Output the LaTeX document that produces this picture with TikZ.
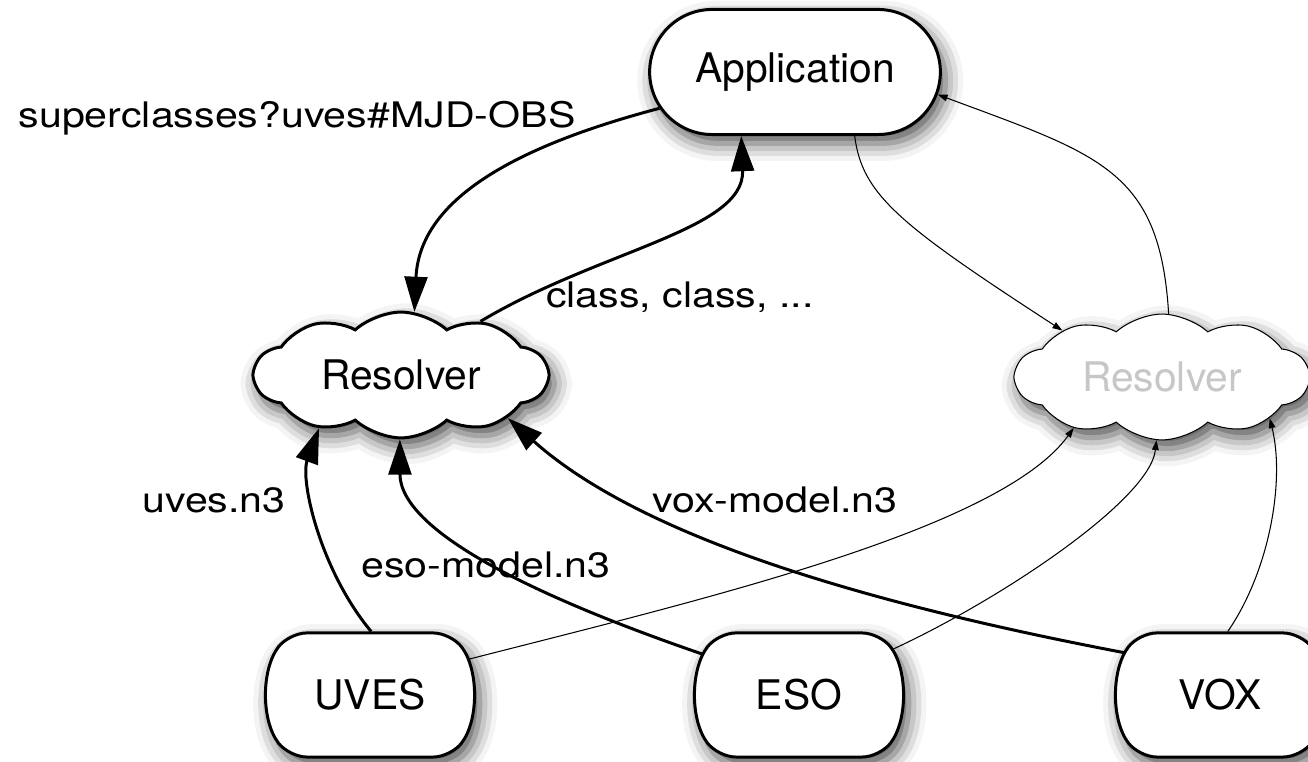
\documentclass[tikz,border=0pt]{standalone}
\usepackage{fontspec}
\setmainfont{TeX Gyre Heros}
\newfontfamily\lblfont{TeX Gyre Heros}[FakeStretch=1.17]
\usetikzlibrary{shapes.misc, shapes.symbols, arrows.meta, shadows.blur}

\begin{document}
\begin{tikzpicture}[
    x=0.01cm, y=-0.01cm,
    font=\fontsize{11.6}{14}\selectfont,
    shade/.style={blur shadow={shadow xshift=1.5pt, shadow yshift=-2.5pt, shadow blur radius=5pt, shadow opacity=70}},
    pill/.style={rounded rectangle, draw=black, line width=0.85pt, fill=white, shade, minimum width=3.14cm, minimum height=1.25cm},
    source/.style={rounded rectangle, rounded rectangle arc length=75, rounded corners=5pt, draw=black, line width=0.85pt, fill=white, shade, minimum height=1.24cm},
    resolver/.style={cloud, cloud puffs=10, cloud puff arc=85, aspect=2.6, draw=black, line width=0.85pt, fill=white, shade, minimum width=2.93cm, minimum height=1.12cm},
    ghost/.style={resolver, line width=0.3pt, text=black!22},
    strong/.style={draw=black, line width=0.85pt, -{Triangle[length=10pt, width=6.5pt]}},
    weak/.style={draw=black, line width=0.3pt, -{Triangle[length=2.8pt, width=1.9pt]}},
    lbl/.style={inner sep=0pt, anchor=base, font=\lblfont\fontsize{10}{12}\selectfont}
]
    \useasboundingbox (0,0) rectangle (1308,762);

    % --- Nodes ---
    \node [pill] (app) at (795,72) {Application};
    \node [resolver] (resA) at (401,375) {Resolver};
    \node [ghost] (resB) at (1162,377) {Resolver};
    \node [source, minimum width=1.87cm] (uves) at (370,695) {UVES};
    \node [source, minimum width=1.88cm] (eso) at (799,695) {ESO};
    \node [source, minimum width=1.74cm] (vox) at (1220,695) {VOX};

    % --- Connections to the first resolver ---
    \draw [strong] (app.195.5) .. controls (540,140) and (420,190) .. (resA.78);
    \draw [strong] (resA.34) .. controls (600,250) and (745,230) .. (app.230.8);
    \draw [strong] (uves.89) .. controls (320,570) and (300,480) .. (resA.213.5);
    \draw [strong] (eso.157) .. controls (530,595) and (400,530) .. (resA.269);
    \draw [strong] (vox.156) .. controls (900,610) and (650,545) .. (resA.-22.4);

    % --- Connections to the second resolver ---
    \draw [weak] (app.-47.9) .. controls (862,195) and (900,225) .. (resB.155.1);
    \draw [weak] (resB.84) .. controls (1160,170) and (1100,155) .. (app.-9);
    \draw [weak] (uves.20.8) .. controls (700,600) and (1000,530) .. (resB.210.4);
    \draw [weak] (eso.26) .. controls (1000,600) and (1150,500) .. (resB.265);
    \draw [weak] (vox.83.5) .. controls (1270,570) and (1285,480) .. (resB.-21.7);

    % --- Labels ---
    \node [lbl] (qry) at (297,128) {superclasses?uves\#MJD-OBS};
    \node [lbl] (ans) at (680,308) {class, class, ...};
    \node [lbl] (uvesn) at (214,513) {uves.n3};
    \node [lbl] (eson) at (486,578) {eso-model.n3};
    \node [lbl] (voxn) at (775,513) {vox-model.n3};

\end{tikzpicture}
\end{document}
